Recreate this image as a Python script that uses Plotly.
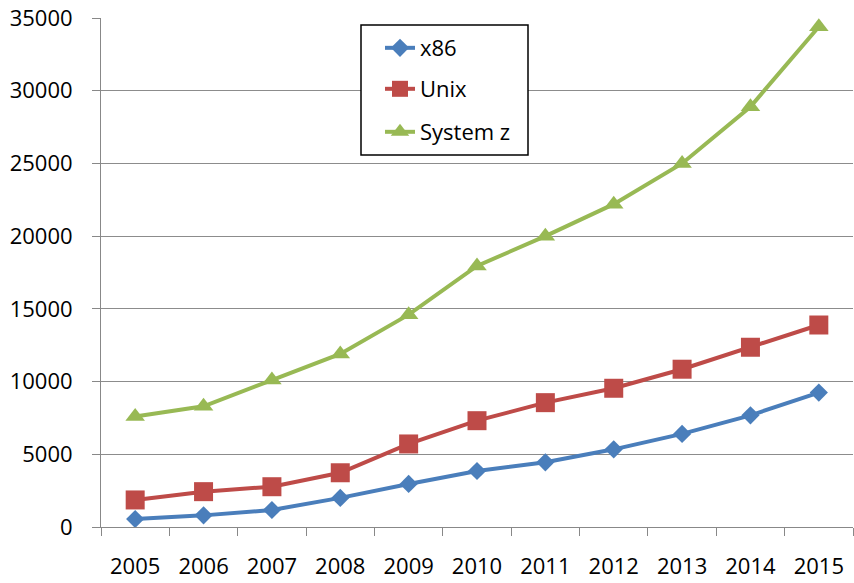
import plotly.graph_objects as go

years = ["2005", "2006", "2007", "2008", "2009", "2010", "2011", "2012", "2013", "2014", "2015"]
x86 = [550, 800, 1170, 2000, 2960, 3850, 4450, 5340, 6400, 7680, 9240]
unix = [1860, 2430, 2770, 3730, 5710, 7310, 8550, 9540, 10850, 12360, 13890]
system_z = [7600, 8300, 10100, 11900, 14600, 17950, 20000, 22200, 25000, 28900, 34400]

series = [
    ("x86", x86, "#4A7EBB", "diamond", 14, "legend", 0.941),
    ("Unix", unix, "#BE4B48", "square", 19, "legend2", 0.8605),
    ("System z", system_z, "#98B954", "triangle-up", 17, "legend3", 0.776),
]

FONT = "Open Sans"
PLOT_L, PLOT_W = 101, 752
LEG_X = (380 - PLOT_L) / PLOT_W

fig = go.Figure()
legend_defs = {}
for name, vals, color, sym, size, leg, ly in series:
    fig.add_trace(go.Scatter(
        x=years, y=vals, name=name, mode="lines+markers",
        line=dict(color=color, width=4),
        marker=dict(symbol=sym, size=size, color=color),
        legend=leg,
    ))
    legend_defs[leg] = dict(
        x=LEG_X, y=ly, xanchor="left", yanchor="middle",
        bgcolor="rgba(0,0,0,0)", borderwidth=0,
        font=dict(family=FONT, size=22, color="black"),
        itemwidth=30,
    )

fig.update_layout(
    width=854, height=583,
    margin=dict(l=101, r=1, t=18, b=56),
    paper_bgcolor="white", plot_bgcolor="white",
    font=dict(family=FONT, size=22, color="black"),
    showlegend=True,
    **legend_defs,
    shapes=[dict(
        type="rect", xref="paper", yref="paper", layer="above",
        x0=(361 - PLOT_L) / PLOT_W, x1=(528 - PLOT_L) / PLOT_W,
        y0=(527 - 155) / 509, y1=(527 - 25) / 509,
        line=dict(color="black", width=1.5), fillcolor="white",
    )],
    xaxis=dict(
        type="category", range=[-0.5, 10.5], automargin=False,
        showgrid=False, showline=True, linecolor="#888888", linewidth=1,
        ticks="outside", tickson="boundaries", ticklen=8, tickcolor="#888888",
        ticklabelstandoff=20,
        tickfont=dict(family=FONT, size=22, color="black"),
    ),
    yaxis=dict(
        range=[0, 35000], dtick=5000, tickformat="d", automargin=False,
        showgrid=True, gridcolor="#8C8C8C", gridwidth=1,
        showline=True, linecolor="#888888", linewidth=1,
        ticks="outside", ticklen=8, tickcolor="#888888",
        ticklabelstandoff=15,
        zeroline=False,
        tickfont=dict(family=FONT, size=22, color="black"),
    ),
)

fig.write_html("out.html")
